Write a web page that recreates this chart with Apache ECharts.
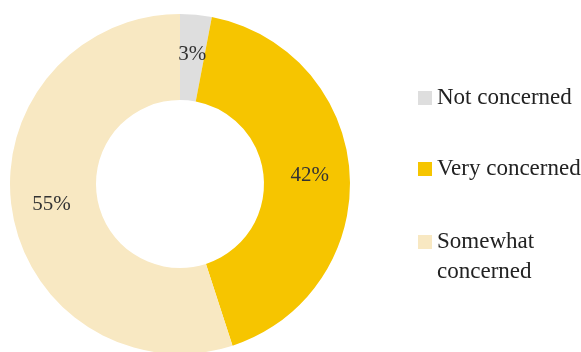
<!DOCTYPE html>
<html>
<head>
<meta charset="utf-8">
<script src="https://cdn.jsdelivr.net/npm/echarts@6/dist/echarts.min.js"></script>
<style>
  html, body { margin: 0; padding: 0; background: #fff; }
  #chart { width: 581px; height: 352px; }
</style>
</head>
<body>
<div id="chart"></div>
<script>
// Share of respondents by level of concern
var categories = ['Not concerned', 'Very concerned', 'Somewhat concerned'];
var shares = [3, 42, 55];
// the blank first line keeps "Somewhat" level with its swatch
var legendLabels = ['Not concerned', 'Very concerned', '\u00a0\nSomewhat\nconcerned'];
var colors = ['#dedede', '#f6c500', '#f8e8c2'];

var FONT = '"Liberation Serif", "DejaVu Serif", serif';

var pieData = categories.map(function (name, i) {
  return { name: name, value: shares[i], itemStyle: { color: colors[i] } };
});

// one legend block per category so each sits at its own height
var legendTops = [85, 156, 197];
var legends = categories.map(function (name, i) {
  var multi = legendLabels[i].indexOf('\n') >= 0;
  return {
    left: 418,
    top: legendTops[i],
    padding: 0,
    orient: 'vertical',
    icon: 'rect',
    itemWidth: 14,
    itemHeight: 14,
    itemGap: 0,
    data: [name],
    formatter: function () { return legendLabels[i]; },
    textStyle: {
      fontFamily: FONT,
      fontSize: 23,
      color: '#222',
      lineHeight: multi ? 30 : 26
    }
  };
});

var chart = echarts.init(document.getElementById('chart'), null, { renderer: 'canvas' });
chart.setOption({
  animation: false,
  legend: legends,
  series: [{
    type: 'pie',
    center: [180, 184],
    radius: [84, 170],
    startAngle: 90,
    clockwise: true,
    avoidLabelOverlap: false,
    silent: true,
    label: {
      show: true,
      position: 'inside',
      formatter: '{c}%',
      fontFamily: FONT,
      fontSize: 21,
      color: '#333'
    },
    labelLine: { show: false },
    data: pieData
  }]
});
</script>
</body>
</html>
